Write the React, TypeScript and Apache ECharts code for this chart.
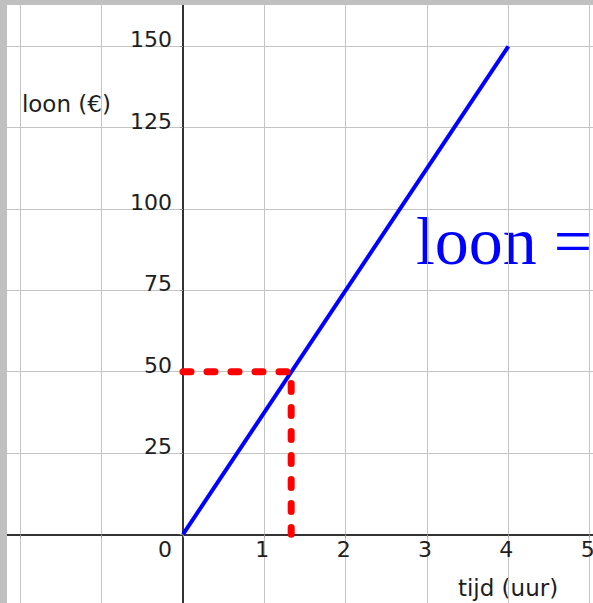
import React, { useEffect, useRef } from "react";
import * as echarts from "echarts";

// ---- data ----
const wageLine: [number, number][] = [
  [0, 0],
  [4, 150],
];
const guideLine: [number, number][] = [
  [0, 50],
  [1.33, 50],
  [1.33, 0],
];
const xTickLabels = [0, 1, 2, 3, 4, 5];
const yTickLabels = [25, 50, 75, 100, 125, 150];
const yAxisTitle = "loon (€)";
const xAxisTitle = "tijd (uur)";
const formulaText = "loon =";

// ---- layout ----
const VIEW_LEFT = 7;
const VIEW_TOP = 5;
const VIEW_W = 593 - VIEW_LEFT;
const VIEW_H = 603 - VIEW_TOP;
const UNIT = 81.3; // px per 1 hour / per 25 euro
const X0 = 176; // viewport px of x = 0
const Y0 = 529; // viewport px of y = 0
const X_MIN = -3;
const X_MAX = 6;
const Y_MIN = -50;
const Y_MAX = 175;
const CHART_LEFT = X0 - (0 - X_MIN) * UNIT;
const CHART_TOP = Y0 - (Y_MAX / 25) * UNIT;
const CHART_W = (X_MAX - X_MIN) * UNIT;
const CHART_H = ((Y_MAX - Y_MIN) / 25) * UNIT;
const Y_AXIS_SHIFT = -(0 - X_MIN) * UNIT; // move y axis from grid left to x = 0
const X_AXIS_SHIFT = -((0 - Y_MIN) / 25) * UNIT; // move x axis from grid bottom to y = 0

const px = (pageX: number) => pageX - VIEW_LEFT - CHART_LEFT;
const py = (pageY: number) => pageY - VIEW_TOP - CHART_TOP;

const SANS = "DejaVu Sans";
const TEXT = "#1e1e1e";

export default function App() {
  const ref = useRef<HTMLDivElement>(null);

  useEffect(() => {
    if (!ref.current) return;
    const chart = echarts.init(ref.current, null, { renderer: "svg" });
    chart.setOption({
      animation: false,
      backgroundColor: "#ffffff",
      grid: {
        left: 0,
        right: 0,
        top: 0,
        bottom: 0,
        containLabel: false,
        outerBoundsMode: "none",
      },
      xAxis: {
        type: "value",
        position: "bottom",
        offset: X_AXIS_SHIFT,
        min: X_MIN,
        max: X_MAX,
        interval: 1,
        axisLine: { show: true, onZero: false, lineStyle: { color: "#333", width: 2 } },
        axisTick: { show: true, length: 3, inside: false, lineStyle: { color: "#999", width: 1 } },
        splitLine: { show: true, lineStyle: { color: "#c4c4c4", width: 1 } },
        axisLabel: {
          margin: 4,
          fontFamily: SANS,
          fontSize: 22,
          color: TEXT,
          showMinLabel: true,
          showMaxLabel: true,
          hideOverlap: false,
          formatter: (v: number) => {
            if (v === 0) return "{z|0}";
            return xTickLabels.includes(v) ? "{n|" + v + "}" : "";
          },
          rich: {
            z: { fontFamily: SANS, fontSize: 22, color: TEXT, padding: [0, 36, 0, 0] },
            n: { fontFamily: SANS, fontSize: 22, color: TEXT, padding: [0, 4, 0, 0] },
          },
        },
      },
      yAxis: {
        type: "value",
        position: "left",
        offset: Y_AXIS_SHIFT,
        min: Y_MIN,
        max: Y_MAX,
        interval: 25,
        axisLine: { show: true, onZero: false, lineStyle: { color: "#333", width: 2 } },
        axisTick: { show: true, length: 3, lineStyle: { color: "#999", width: 1 } },
        splitLine: { show: true, lineStyle: { color: "#c4c4c4", width: 1 } },
        axisLabel: {
          margin: 11,
          fontFamily: SANS,
          fontSize: 22,
          color: TEXT,
          hideOverlap: false,
          formatter: (v: number) => (yTickLabels.includes(v) ? "{a|" + v + "}" : ""),
          rich: {
            a: { fontFamily: SANS, fontSize: 22, color: TEXT, padding: [0, 0, 13, 0] },
          },
        },
      },
      series: [
        {
          type: "line",
          data: wageLine,
          symbol: "none",
          lineStyle: { color: "#0000ff", width: 4 },
          z: 3,
        },
        {
          type: "line",
          data: guideLine,
          symbol: "none",
          lineStyle: { color: "#ff0000", width: 7, type: [8, 16], cap: "round", join: "round" },
          z: 4,
        },
      ],
      graphic: [
        {
          type: "text",
          x: px(22),
          y: py(104),
          style: {
            text: yAxisTitle,
            fontFamily: SANS,
            fontSize: 23,
            fill: TEXT,
            verticalAlign: "middle",
            align: "left",
          },
        },
        {
          type: "text",
          x: px(458),
          y: py(588),
          style: {
            text: xAxisTitle,
            fontFamily: SANS,
            fontSize: 23,
            fill: TEXT,
            verticalAlign: "middle",
            align: "left",
          },
        },
        {
          type: "text",
          x: px(416),
          y: py(241),
          style: {
            text: formulaText,
            fontFamily: "Liberation Serif",
            fontSize: 68,
            fill: "#0000ff",
            verticalAlign: "middle",
            align: "left",
          },
        },
      ],
    });
    return () => chart.dispose();
  }, []);

  return (
    <div
      style={{
        position: "absolute",
        left: 0,
        top: 0,
        width: 593,
        height: 603,
        background: "#c0c0c0",
        overflow: "hidden",
      }}
    >
      <div
        style={{
          position: "absolute",
          left: VIEW_LEFT,
          top: VIEW_TOP,
          width: VIEW_W,
          height: VIEW_H,
          background: "#fff",
          overflow: "hidden",
        }}
      >
        <div
          ref={ref}
          style={{
            position: "absolute",
            left: CHART_LEFT,
            top: CHART_TOP,
            width: CHART_W,
            height: CHART_H,
          }}
        />
      </div>
    </div>
  );
}
